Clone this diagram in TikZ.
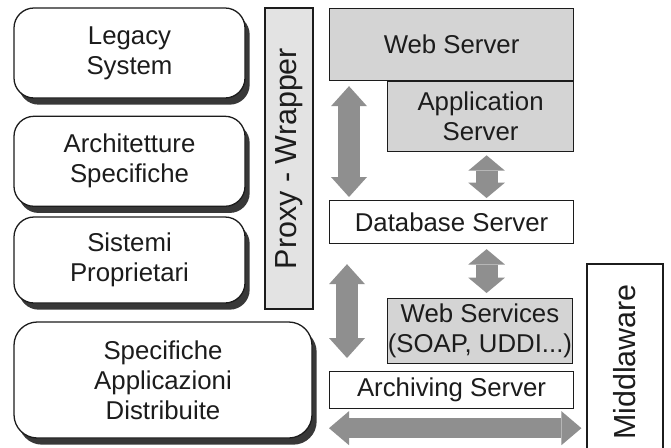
\documentclass[tikz,border=0pt]{standalone}
\usepackage{fontspec}
\setmainfont{Liberation Sans}
\usepackage{tikz}
\usepackage{xcolor}
\usetikzlibrary{arrows.meta,positioning,shadows,calc}
\definecolor{Server}{HTML}{D4D4D4}
\definecolor{Proxy}{HTML}{E3E3E3}
\definecolor{Flow}{HTML}{8F8F8F}
\definecolor{Shade}{HTML}{383838}
\definecolor{Ink}{HTML}{1C1C1C}
\tikzset{
  legacybox/.style={
    rounded corners=0.6cm,draw=Ink,line width=1.1pt,fill=white,
    minimum width=6.93cm,minimum height=2.7cm,align=center,
    font=\fontsize{22}{25.6}\selectfont,text=Ink,
    drop shadow={shadow xshift=0.14cm,shadow yshift=-0.2cm,fill=Shade,opacity=1}
  },
  srvbox/.style={
    draw=Ink,line width=1pt,fill=Server,inner sep=0pt,
    minimum width=7.32cm,align=center,
    font=\fontsize{22}{25.6}\selectfont,text=Ink
  },
  sidebar/.style={
    draw=Ink,line width=1pt,rotate=90,inner sep=0pt,
    font=\fontsize{26}{30}\selectfont,text=Ink
  },
  bigflow/.style={
    {Triangle[length=0.6cm,width=1.08cm,line width=0pt]}-{Triangle[length=0.6cm,width=1.08cm,line width=0pt]},
    line width=0.66cm,draw=Flow
  },
  smallflow/.style={
    {Triangle[length=0.46cm,width=1.1cm,line width=0pt]}-{Triangle[length=0.46cm,width=1.1cm,line width=0pt]},
    line width=0.66cm,draw=Flow
  },
  wideflow/.style={
    {Triangle[length=0.6cm,width=1.02cm,line width=0pt]}-{Triangle[length=0.6cm,width=1.02cm,line width=0pt]},
    line width=0.6cm,draw=Flow
  }
}

\begin{document}
\begin{tikzpicture}
  \clip (0,0) rectangle (20.13,13.41);
  \fill[white] (0,0) rectangle (20.13,13.41);

  % systems to integrate
  \node[legacybox] (legacy) at (3.885,11.82) {Legacy\\System};
  \node[legacybox,below=0.51cm of legacy] (archi) {Architetture\\Specifiche};
  \node[legacybox,minimum height=2.58cm] (propr) at (3.885,5.61) {Sistemi\\Proprietari};
  \node[legacybox,minimum width=8.94cm,minimum height=3.48cm,rounded corners=0.7cm]
    (distr) at (4.89,2.01) {Specifiche\\Applicazioni\\Distribuite};

  % side bars
  \node[sidebar,fill=Proxy,minimum width=9.03cm,minimum height=1.44cm]
    (proxy) at (8.67,8.655) {Proxy - Wrapper};
  \node[sidebar,fill=white,minimum width=5.88cm,minimum height=2.28cm]
    (mw) at (18.75,2.55) {Middlaware};

  % server stack
  \node[srvbox,anchor=north west,minimum height=2.16cm] (web) at (9.87,13.17) {Web Server};
  \node[srvbox,below=0pt of web.south east,anchor=north east,
    minimum width=5.58cm,minimum height=2.1cm] (app) {Application\\Server};
  \node[srvbox,fill=white,anchor=north west,minimum height=1.29cm] (db) at (9.87,7.41) {Database Server};
  \node[srvbox,anchor=north east,minimum width=5.55cm,minimum height=1.95cm]
    (wsv) at (17.19,4.47) {Web Services\\(SOAP, UDDI...)};
  \node[srvbox,fill=white,anchor=north west,minimum height=1.11cm] (arch) at (9.87,2.28) {Archiving Server};

  % flows
  \draw[bigflow] ([xshift=0.6cm,yshift=-0.15cm]web.south west) -- ([xshift=0.6cm,yshift=0.09cm]db.north west);
  \draw[bigflow] ([xshift=0.54cm,yshift=-0.6cm]db.south west) -- ([xshift=0.54cm,yshift=0.39cm]arch.north west);
  \draw[smallflow] ([xshift=0.18cm,yshift=-0.09cm]app.south) -- ([xshift=0.18cm,yshift=0.06cm]app.south |- db.north);
  \draw[smallflow] ([xshift=0.18cm,yshift=-0.15cm]app.south |- db.south) -- ([xshift=0.18cm,yshift=0.15cm]app.south |- wsv.north);
  \coordinate (busleft) at ([yshift=-0.57cm]arch.south west);
  \draw[wideflow] (busleft) -- ([xshift=-0.15cm]busleft -| mw.north);
\end{tikzpicture}
\end{document}
